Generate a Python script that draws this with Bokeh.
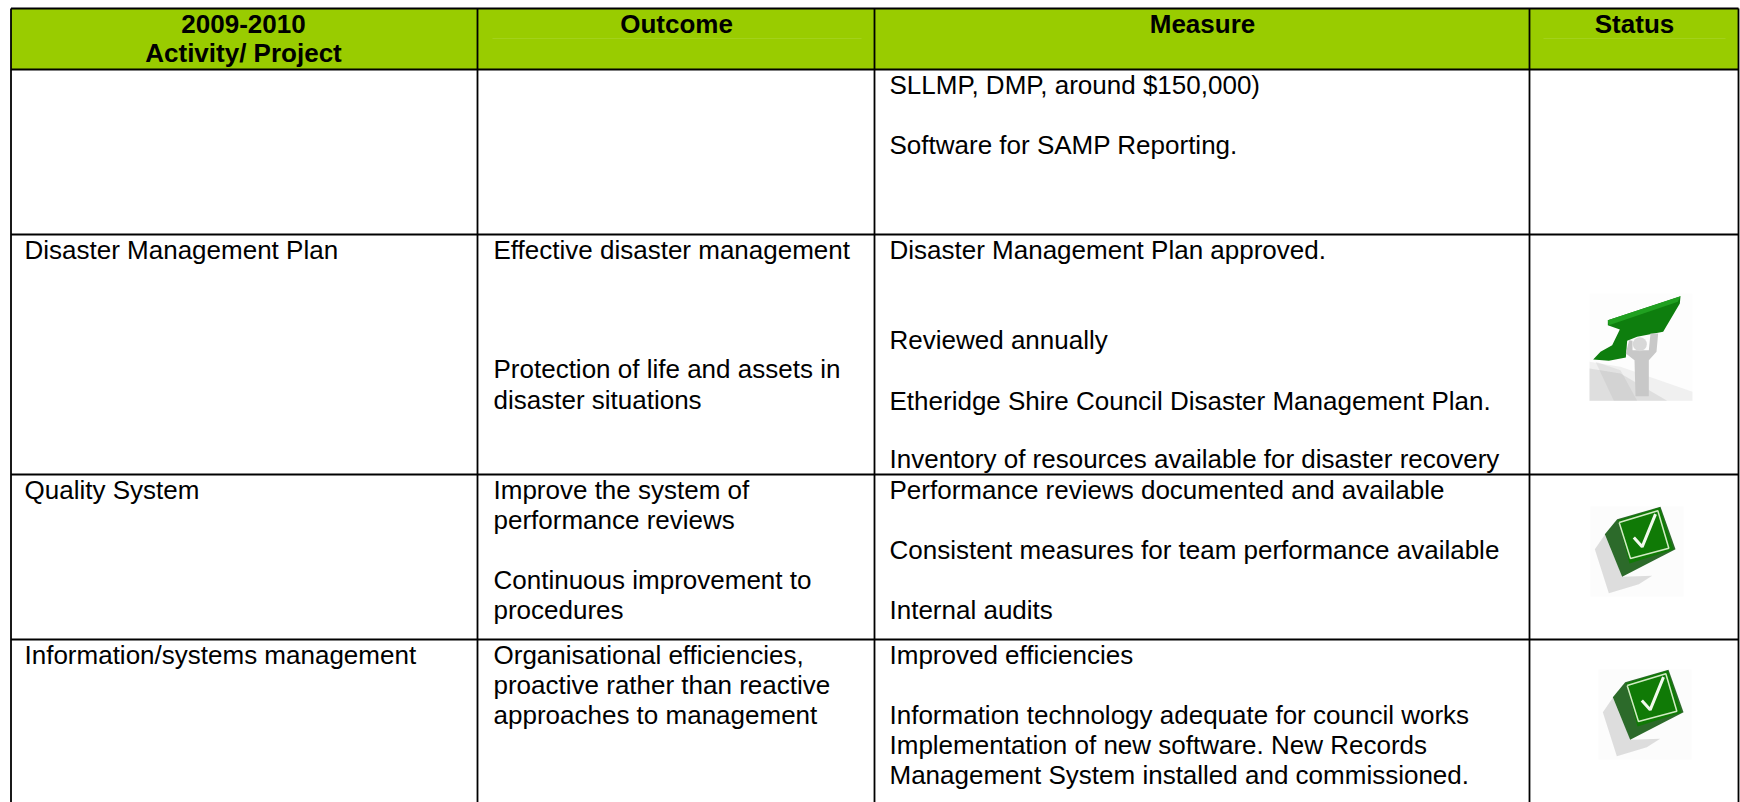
from bokeh.plotting import figure
from bokeh.embed import file_html
from bokeh.resources import INLINE
from bokeh.models import Range1d
from bokeh.core.properties import value

FONT = "Liberation Sans"
SIZE = "26px"
GREEN = "#99CC00"

# table geometry
col_edges = [10.5, 477, 874, 1529, 1738]
row_edges = [8, 69, 234, 474, 639]
table_bottom = 802

header_texts = ["2009-2010", "Activity/ Project", "Outcome", "Measure", "Status"]
header_x = [243, 243, 676, 1202, 1634]
header_y = [31, 60.5, 31, 31, 31]

cell_texts = [
    "SLLMP, DMP, around $150,000)", "Software for SAMP Reporting.",
    "Disaster Management Plan", "Effective disaster management",
    "Protection of life and assets in", "disaster situations",
    "Disaster Management Plan approved.", "Reviewed annually",
    "Etheridge Shire Council Disaster Management Plan.",
    "Inventory of resources available for disaster recovery",
    "Quality System", "Improve the system of", "performance reviews",
    "Continuous improvement to", "procedures",
    "Performance reviews documented and available",
    "Consistent measures for team performance available", "Internal audits",
    "Information/systems management", "Organisational efficiencies,",
    "proactive rather than reactive", "approaches to management",
    "Improved efficiencies", "Information technology adequate for council works",
    "Implementation of new software. New Records",
    "Management System installed and commissioned.",
]
cell_x = [889, 889, 24, 493, 493, 493, 889, 889, 889, 889,
          24, 493, 493, 493, 493, 889, 889, 889,
          24, 493, 493, 493, 889, 889, 889, 889]
cell_y = [92.5, 152.5, 257.5, 257.5, 376.5, 407, 257.5, 347.5, 408, 466.5,
          497.5, 497.5, 527.5, 587.5, 617.5, 497.5, 557.5, 617.5,
          662.5, 662.5, 692.5, 722.5, 662.5, 722.5, 752.5, 782.5]

p = figure(width=1740, height=802, output_backend="svg", toolbar_location=None,
           x_range=Range1d(0, 1740), y_range=Range1d(802, 0),
           min_border=0, outline_line_color=None, background_fill_color="white")
p.axis.visible = False
p.grid.visible = False

p.quad(left=[col_edges[0]], right=[col_edges[-1]], top=[row_edges[0]], bottom=[row_edges[1]],
       fill_color=GREEN, line_color=None)
p.segment(x0=[492, 1543], x1=[861, 1725], y0=[38, 38], y1=[38, 38], line_color="#A3D21A", line_width=1)

p.segment(x0=[col_edges[0]] * len(row_edges), x1=[col_edges[-1]] * len(row_edges),
          y0=row_edges, y1=row_edges, line_color="black", line_width=2.2)
p.segment(x0=col_edges, x1=col_edges, y0=[row_edges[0]] * len(col_edges), y1=[table_bottom] * len(col_edges),
          line_color="black", line_width=1.8)

p.text(x=header_x, y=header_y, text=header_texts, text_font=value(FONT), text_font_size=value(SIZE),
       text_font_style="bold", text_align="center", text_baseline="alphabetic", text_color="black", y_offset=-8)
p.text(x=cell_x, y=cell_y, text=cell_texts, text_font=value(FONT), text_font_size=value(SIZE),
       text_align="left", text_baseline="alphabetic", text_color="black", y_offset=-8)


def poly(X, Y, pts, **kw):
    s = 1 / 3
    p.patch([X + a * s for a, _ in pts], [Y + b * s for _, b in pts], line_color=None, **kw)


def arrow_icon(x0, y0):
    s = 1 / 3
    X, Y = x0 - 327 * s, y0 - 70 * s
    p.quad(left=[x0], right=[x0 + 103], top=[y0], bottom=[y0 + 107.5], fill_color="#FDFDFD", line_color=None)
    poly(X, Y, [(327, 275), (420, 290), (636, 365), (636, 392), (327, 392)], fill_color="#909090", fill_alpha=0.12)
    poly(X, Y, [(327, 295), (420, 310), (560, 392), (327, 392)], fill_color="#808080", fill_alpha=0.16)
    poly(X, Y, [(345, 275), (420, 300), (470, 392), (400, 392)], fill_color="#808080", fill_alpha=0.12)
    poly(X, Y, [(338, 268), (360, 245), (395, 225), (418, 178), (382, 165), (382, 150), (600, 78), (598, 100),
                (548, 185), (470, 200), (440, 212), (436, 262), (385, 272)], fill_color="#0E7E0E")
    poly(X, Y, [(382, 150), (600, 78), (592, 95), (385, 165)], fill_color="#20A020")
    poly(X, Y, [(436, 250), (446, 210), (456, 212), (456, 240), (505, 240), (510, 190), (533, 190), (528, 245),
                (505, 270), (505, 378), (465, 378), (462, 270)], fill_color="#C8C8C8")
    p.circle(x=[X + 478 * s], y=[Y + 222 * s], radius=7, fill_color="#D8D8D8", line_color=None)


def check_icon(x0, y0):
    s = 1 / 3
    X, Y = x0 - 295 * s, y0 - 87 * s
    p.quad(left=[x0], right=[x0 + 93], top=[y0], bottom=[y0 + 90], fill_color="#FCFCFC", line_color=None)
    poly(X, Y, [(308, 215), (338, 172), (392, 298), (480, 295), (440, 320), (350, 347)],
         fill_color="#B8B8B8", fill_alpha=0.45)
    poly(X, Y, [(338, 170), (375, 125), (505, 88), (550, 215), (390, 298)], fill_color="#2C6A2A")
    poly(X, Y, [(378, 128), (503, 90), (544, 216), (412, 258)], fill_color="#107A06")
    sx = [381, 497, 530, 415, 381]
    sy = [135, 100, 212, 243, 135]
    p.line([X + a * s for a in sx], [Y + b * s for b in sy], line_color="#D2EBC4", line_width=1.5)
    cx = [425, 450, 490]
    cy = [180, 208, 110]
    p.line([X + a * s for a in cx], [Y + b * s for b in cy], line_color="#F2FAEE", line_width=3)


arrow_icon(1589, 293)
check_icon(1590, 506)
check_icon(1598, 669)

open("out.html", "w").write(file_html(p, INLINE))
